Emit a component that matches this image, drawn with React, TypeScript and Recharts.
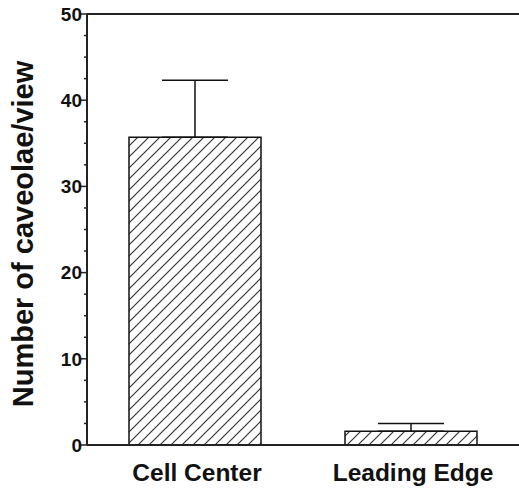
import React from 'react';
import { BarChart, Bar, XAxis, YAxis, ErrorBar, ReferenceLine } from 'recharts';

const categories = ['Cell Center', 'Leading Edge'];
const values = [35.7, 1.6];
const errors = [6.6, 0.9];
const yTicks = [0, 2.5, 5, 7.5, 10, 12.5, 15, 17.5, 20, 22.5, 25, 27.5, 30, 32.5, 35, 37.5, 40, 42.5, 45, 47.5, 50];
const yLabel = 'Number of caveolae/view';

const data = categories.map((c, i) => ({ name: c, value: values[i], err: [0, errors[i]] }));

const FONT = '"Liberation Sans", Arial, sans-serif';

const YTick = (props: any) => {
  const { x, y, payload } = props;
  const v = payload.value;
  const major = v % 10 === 0;
  return (
    <g>
      <line x1={x - (major ? 6 : 3)} x2={x} y1={y} y2={y} stroke="#222" strokeWidth={1.5} />
      {major && (
        <text x={x - 5} y={y} dy="0.36em" textAnchor="end" fontFamily={FONT} fontWeight="bold" fontSize={19} fill="#111">
          {v}
        </text>
      )}
    </g>
  );
};

const XTick = (props: any) => {
  const { x, y, payload } = props;
  return (
    <text x={x + 2} y={y + 36} textAnchor="middle" fontFamily={FONT} fontWeight="bold" fontSize={24.5} fill="#111">
      {payload.value}
    </text>
  );
};

const YTitle = () => (
  <text
    x={33}
    y={234}
    transform="rotate(-90 33 234)"
    textAnchor="middle"
    fontFamily={FONT}
    fontWeight="bold"
    fontSize={29}
    fill="#111"
  >
    {yLabel}
  </text>
);

export default function App() {
  return (
    <div style={{ position: 'absolute', left: 0, top: 0, width: 519, height: 488, background: '#fff', overflow: 'hidden' }}>
      <svg width={0} height={0} style={{ position: 'absolute' }}>
        <defs>
          <pattern id="hatch" patternUnits="userSpaceOnUse" width={11} height={11}>
            <path d="M-1,1 L1,-1 M0,11 L11,0 M10,12 L12,10" stroke="#333" strokeWidth={1.2} />
          </pattern>
        </defs>
      </svg>
      <BarChart width={519} height={488} data={data} margin={{ top: 14, right: 0, left: 0, bottom: 0 }}>
        <XAxis
          dataKey="name"
          height={43}
          tickLine={false}
          tickSize={0}
          tickMargin={0}
          axisLine={{ stroke: '#222', strokeWidth: 2 }}
          tick={<XTick />}
          interval={0}
        />
        <YAxis
          width={87}
          domain={[0, 50]}
          ticks={yTicks}
          interval={0}
          tickLine={false}
          tickSize={0}
          tickMargin={0}
          axisLine={{ stroke: '#222', strokeWidth: 2 }}
          tick={<YTick />}
          label={<YTitle />}
        />
        <ReferenceLine y={50} stroke="#222" strokeWidth={2} />
        <Bar dataKey="value" barSize={132} fill="url(#hatch)" stroke="#111" strokeWidth={1.5} isAnimationActive={false}>
          <ErrorBar dataKey="err" width={33} stroke="#111" strokeWidth={1.5} direction="y" />
        </Bar>
      </BarChart>
    </div>
  );
}
